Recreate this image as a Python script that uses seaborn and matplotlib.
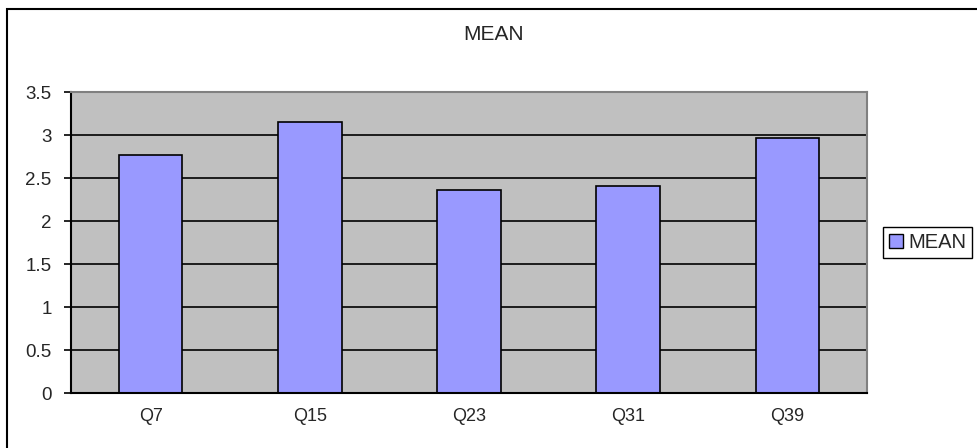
import matplotlib
matplotlib.use("Agg")
import matplotlib.pyplot as plt
import seaborn as sns
import pandas as pd
from matplotlib.patches import Rectangle, Patch

categories = ["Q7", "Q15", "Q23", "Q31", "Q39"]
mean_values = [2.77, 3.15, 2.36, 2.41, 2.96]
series_name = "MEAN"
y_ticks = [0, 0.5, 1, 1.5, 2, 2.5, 3, 3.5]
y_tick_labels = ["0", "0.5", "1", "1.5", "2", "2.5", "3", "3.5"]

df = pd.DataFrame({"question": categories, "value": mean_values})

sns.set_style("white")
plt.rcParams["font.family"] = ["Liberation Sans", "DejaVu Sans"]

W, H = 978, 448
fig = plt.figure(figsize=(W / 100, H / 100), dpi=100)
ax = fig.add_axes([71 / W, 1 - 393 / H, (867 - 71) / W, (393 - 92) / H])
ax.set_facecolor("#C0C0C0")

sns.barplot(data=df, x="question", y="value", ax=ax, color="#9999FF",
            width=0.4, edgecolor="black", linewidth=1.2, saturation=1)

ax.set_xlim(-0.5, len(categories) - 0.5)
ax.set_ylim(0, 3.5)
ax.set_yticks(y_ticks)
ax.set_yticklabels(y_tick_labels)
ax.yaxis.grid(True, color="black", linewidth=1.2)
ax.set_axisbelow(True)
ax.set_xlabel("")
ax.set_ylabel("")

# x ticks: labels at centers, tick marks at category boundaries
ax.set_xticks(range(len(categories)))
ax.set_xticklabels(categories)
ax.set_xticks([i - 0.5 for i in range(len(categories) + 1)], minor=True)
ax.tick_params(axis="x", which="major", length=0, pad=11, labelsize=13)
ax.tick_params(axis="x", which="minor", length=5, width=1.2, color="black", direction="out")
ax.tick_params(axis="y", which="major", length=5, width=1.2, color="black", direction="out",
               pad=9, labelsize=13.5, left=True)

for side in ["left", "bottom"]:
    ax.spines[side].set_color("black")
    ax.spines[side].set_linewidth(1.5)
    ax.spines[side].set_visible(True)
for side in ["top", "right"]:
    ax.spines[side].set_color("#808080")
    ax.spines[side].set_linewidth(1.5)
    ax.spines[side].set_visible(True)

fig.text(494 / W, 1 - 35 / H, "MEAN", ha="center", va="center", fontsize=15)

handle = Patch(facecolor="#9999FF", edgecolor="black", linewidth=1.0)
fig.legend([handle], [series_name], loc="center left",
           bbox_to_anchor=(883 / W, 1 - 242.5 / H), frameon=True, fancybox=False,
           edgecolor="black", framealpha=1, fontsize=14.5, handlelength=0.7,
           handleheight=0.7, handletextpad=0.25, borderpad=0.3, borderaxespad=0)

# outer chart border (only left and top visible in the reference)
fig.patches.append(Rectangle((7 / W, -0.2), 1.2, 1.2 - 9 / H, transform=fig.transFigure,
                             fill=False, edgecolor="black", linewidth=1.5))

fig.savefig("out.png", dpi=100)
